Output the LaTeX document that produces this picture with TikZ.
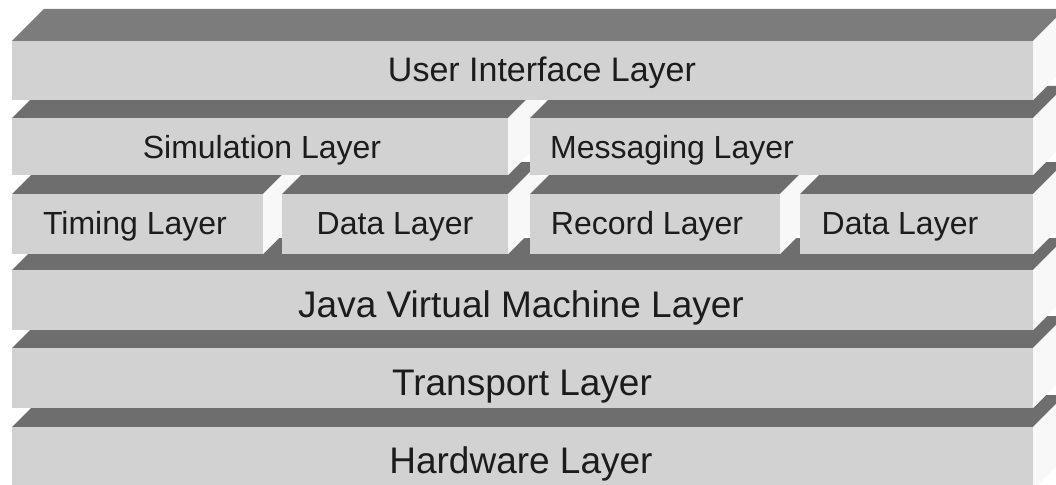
\documentclass[tikz,border=0pt]{standalone}
\usepackage{fontspec}
\setmainfont{Liberation Sans}

\definecolor{frontgrey}{HTML}{D2D2D2}
\definecolor{topgrey}{HTML}{6E6E6E}
\definecolor{uitopgrey}{HTML}{7C7C7C}
\definecolor{sidewhite}{HTML}{F8F8F8}
\definecolor{inkgrey}{HTML}{1C1C1C}

% depth of every slab (receding up and to the right)
\newcommand\slabdepth{32}
% \layerslab[top colour]{x left}{x right}{y top}{y bottom}
\newcommand\layerslab[5][topgrey]{%
  \fill[#1] (#2,#4) -- (#3,#4) -- ++(\slabdepth,-\slabdepth)
        -- (#2+\slabdepth,#4-\slabdepth) -- cycle;
  \fill[sidewhite] (#3,#4) -- ++(\slabdepth,-\slabdepth)
        -- (#3+\slabdepth,#5-\slabdepth) -- (#3,#5) -- cycle;
  \fill[frontgrey] (#2,#4) rectangle (#3,#5);
}

\tikzset{
  layertext/.style={font=\fontsize{24}{28}\selectfont, text=inkgrey,
    anchor=base, inner sep=0pt},
  uitext/.style={layertext, font=\fontsize{25.5}{30}\selectfont},
  basetext/.style={layertext, font=\fontsize{27.75}{32}\selectfont},
}

\begin{document}
\begin{tikzpicture}[x=0.75pt,y=-0.75pt]
  \useasboundingbox (0,0) rectangle (1056,485);

  % slabs, from the bottom of the stack upwards
  \layerslab{12}{1033}{427}{490}
  \layerslab{12}{1033}{348}{408}
  \layerslab{12}{1033}{270}{330}
  % service row
  \layerslab{12}{263}{194}{254}
  \layerslab{282}{508}{194}{254}
  \layerslab{530}{780}{194}{254}
  \layerslab{800}{1033}{194}{254}
  % middle row
  \layerslab{12}{508}{118}{175}
  \layerslab{530}{1033}{118}{175}
  % top slab
  \layerslab[uitopgrey]{12}{1033}{41}{100}

  % labels
  \node[uitext]   (ui)   at (542,81)  {User Interface Layer};
  \node[layertext] (sim)  at (262,158) {Simulation Layer};
  \node[layertext] (msg)  at (672,158) {Messaging Layer};
  \node[layertext] (tim)  at (135,234) {Timing Layer};
  \node[layertext] (dat1) at (395,234) {Data Layer};
  \node[layertext] (rec)  at (647,234) {Record Layer};
  \node[layertext] (dat2) at (900,234) {Data Layer};
  \node[basetext] (jvm)  at (521,317) {Java Virtual Machine Layer};
  \node[basetext] (trn)  at (522,395) {Transport Layer};
  \node[basetext] (hw)   at (521,473) {Hardware Layer};
\end{tikzpicture}
\end{document}
